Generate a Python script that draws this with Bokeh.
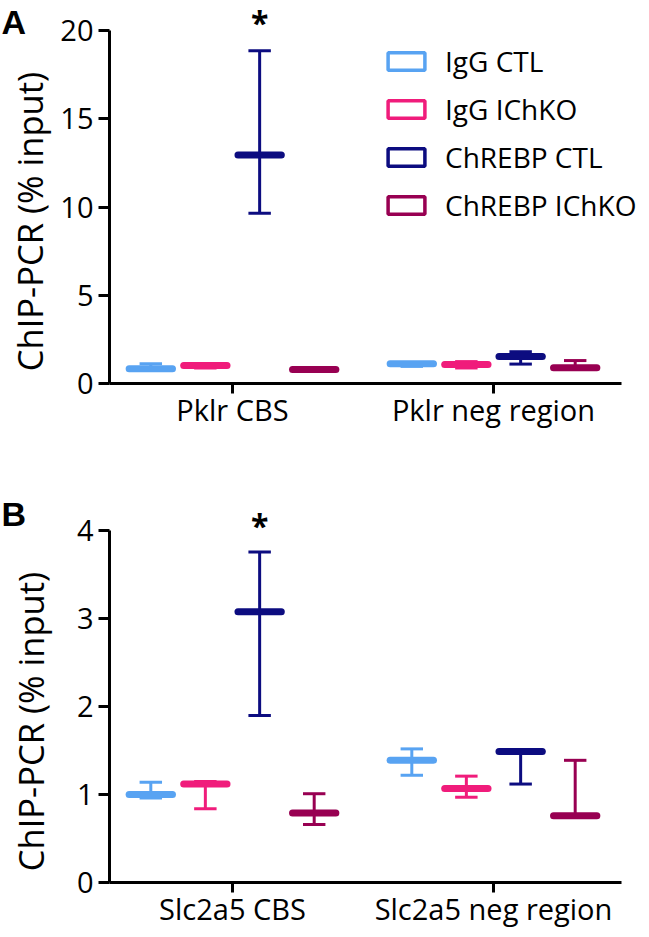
import math
from bokeh.plotting import figure
from bokeh.models import (Range1d, FixedTicker, Legend, LegendItem, Label,
                          ColumnDataSource, LinearAxis)
from bokeh.layouts import column
from bokeh.embed import file_html
from bokeh.resources import INLINE

# ---------------- data ----------------
groups = ["IgG CTL", "IgG IChKO", "ChREBP CTL", "ChREBP IChKO"]
colors = ["#58A3F2", "#F01C7B", "#0C0C80", "#980052"]

# Panel A
sites_a = ["Pklr CBS", "Pklr neg region"]
a_mean_igg_ctl = [0.83, 1.12]
a_up_igg_ctl = [1.12, 1.18]
a_lo_igg_ctl = [0.76, 0.97]
a_mean_igg_ko = [1.02, 1.08]
a_up_igg_ko = [1.08, 1.24]
a_lo_igg_ko = [0.88, 0.88]
a_mean_chr_ctl = [12.95, 1.53]
a_up_chr_ctl = [18.85, 1.80]
a_lo_chr_ctl = [9.65, 1.10]
a_mean_chr_ko = [0.80, 0.89]
a_up_chr_ko = [0.84, 1.30]
a_lo_chr_ko = [0.76, 0.84]
a_yticks = [0, 5, 10, 15, 20]
a_ymax = 20
a_star_site = 0
a_star_group = 2
a_star_y = 20.45

# Panel B
sites_b = ["Slc2a5 CBS", "Slc2a5 neg region"]
b_mean_igg_ctl = [1.00, 1.39]
b_up_igg_ctl = [1.14, 1.52]
b_lo_igg_ctl = [0.96, 1.22]
b_mean_igg_ko = [1.12, 1.07]
b_up_igg_ko = [1.15, 1.21]
b_lo_igg_ko = [0.84, 0.97]
b_mean_chr_ctl = [3.08, 1.49]
b_up_chr_ctl = [3.76, 1.51]
b_lo_chr_ctl = [1.90, 1.12]
b_mean_chr_ko = [0.79, 0.76]
b_up_chr_ko = [1.01, 1.39]
b_lo_chr_ko = [0.66, 0.74]
b_yticks = [0, 1, 2, 3, 4]
b_ymax = 4
b_star_site = 0
b_star_group = 2
b_star_y = 4.06

# ---------------- styling / layout ----------------
FONT = "Open Sans"
W = 641
PX_PER_X = 261.0          # px per category unit
X1_PX = 232.0             # px (from figure left) of first category
YAXIS_PX = 109.0          # px (from figure left) of y-axis line
XAXIS_END_PX = 621.0
offsets = [-0.313, -0.104, 0.104, 0.313]
mean_half = 0.083
cap_half = 0.043


def px_to_x(px):
    return 1 + (px - X1_PX) / PX_PER_X


def make_panel(sites, means, ups, los, yticks, ymax, height, y0_px, ppu,
               letter, letter_base_px, title_center_px, star, legend=False):
    # y0_px: px from figure top where y=0 ; ppu: px per y unit
    y_start = -(height - y0_px) / ppu
    y_end = y0_px / ppu
    p = figure(width=W, height=height, output_backend="svg", toolbar_location=None,
               x_range=Range1d(px_to_x(0), px_to_x(W)), y_range=Range1d(y_start, y_end),
               x_axis_type=None, y_axis_type=None,
               min_border=0, min_border_left=0, min_border_right=0,
               min_border_top=0, min_border_bottom=0, title=None)
    p.outline_line_color = None
    p.background_fill_color = None
    p.border_fill_color = None

    site_x = [i + 1 for i in range(len(sites))]
    x_axis_start = px_to_x(YAXIS_PX)

    yax = LinearAxis(ticker=FixedTicker(ticks=yticks), fixed_location=x_axis_start,
                     bounds=(0, ymax))
    xax = LinearAxis(ticker=FixedTicker(ticks=site_x), fixed_location=0,
                     bounds=(x_axis_start, px_to_x(XAXIS_END_PX)),
                     major_label_overrides={x: s for x, s in zip(site_x, sites)})
    for ax in (xax, yax):
        ax.axis_line_width = 3
        ax.axis_line_color = "black"
        ax.major_tick_line_width = 3
        ax.major_tick_line_color = "black"
        ax.minor_tick_line_color = None
        ax.major_label_text_font = FONT
        ax.major_label_text_font_size = "29px"
        ax.major_label_text_color = "black"
        ax.major_tick_in = 0
    yax.major_tick_out = 11
    yax.major_label_standoff = 5
    xax.major_tick_out = 10
    xax.major_label_standoff = -4
    p.add_layout(yax, "left")
    p.add_layout(xax, "below")

    # error bars and mean lines
    for g, (name, col) in enumerate(zip(groups, colors)):
        xs = [sx + offsets[g] for sx in site_x]
        src = ColumnDataSource(dict(
            x=xs, mean=means[g], up=ups[g], lo=los[g],
            mx0=[x - mean_half for x in xs], mx1=[x + mean_half for x in xs],
            cx0=[x - cap_half for x in xs], cx1=[x + cap_half for x in xs]))
        p.segment(x0="x", y0="lo", x1="x", y1="up", source=src, line_color=col, line_width=3)
        p.segment(x0="cx0", y0="up", x1="cx1", y1="up", source=src, line_color=col, line_width=3)
        p.segment(x0="cx0", y0="lo", x1="cx1", y1="lo", source=src, line_color=col, line_width=3)
        p.segment(x0="mx0", y0="mean", x1="mx1", y1="mean", source=src, line_color=col,
                  line_width=7, line_cap="round")

    # significance star
    s_site, s_group, s_y = star
    p.add_layout(Label(x=site_x[s_site] + offsets[s_group], y=s_y, text="*",
                       text_font=FONT, text_font_size="32px", text_font_style="bold",
                       text_align="center", text_baseline="alphabetic", text_color="black"))

    # y-axis title (rotated)
    tx, ty = title_center_px
    p.add_layout(Label(x=tx, y=height - ty, x_units="screen", y_units="screen",
                       text="ChIP-PCR (% input)", angle=math.pi / 2,
                       text_font=FONT, text_font_size="34.5px", text_align="center",
                       text_baseline="middle", text_color="black"))

    # panel letter
    p.add_layout(Label(x=1, y=height - letter_base_px, x_units="screen", y_units="screen",
                       text=letter, text_font="Liberation Sans", text_font_size="34px",
                       text_font_style="bold", text_baseline="alphabetic", text_color="black"))

    if legend:
        items = []
        for name, col in zip(groups, colors):
            r = p.rect(x=[float("nan")], y=[float("nan")], width=1, height=1,
                       fill_color=None, line_color=col, line_width=3.5)
            items.append(LegendItem(label=name, renderers=[r]))
        leg = Legend(items=items, location=(383, height - 224), orientation="vertical",
                     glyph_width=46, glyph_height=22, label_standoff=16,
                     label_text_font=FONT, label_text_font_size="28px",
                     label_text_color="black", spacing=10, padding=0, margin=0,
                     border_line_color=None, background_fill_alpha=0)
        p.add_layout(leg, "center")
    return p


# Panel A: figure rows 0..470 ; y=0 at 383 ; y=20 at 30
a_means = [a_mean_igg_ctl, a_mean_igg_ko, a_mean_chr_ctl, a_mean_chr_ko]
a_ups = [a_up_igg_ctl, a_up_igg_ko, a_up_chr_ctl, a_up_chr_ko]
a_los = [a_lo_igg_ctl, a_lo_igg_ko, a_lo_chr_ctl, a_lo_chr_ko]
pa = make_panel(sites_a, a_means, a_ups, a_los, a_yticks, a_ymax,
                height=470, y0_px=383, ppu=353 / 20,
                letter="A", letter_base_px=21, title_center_px=(29, 221),
                star=(a_star_site, a_star_group, a_star_y), legend=True)

# Panel B: figure rows 470..929 ; y=0 at 882 ; y=4 at 530.4
b_means = [b_mean_igg_ctl, b_mean_igg_ko, b_mean_chr_ctl, b_mean_chr_ko]
b_ups = [b_up_igg_ctl, b_up_igg_ko, b_up_chr_ctl, b_up_chr_ko]
b_los = [b_lo_igg_ctl, b_lo_igg_ko, b_lo_chr_ctl, b_lo_chr_ko]
pb = make_panel(sites_b, b_means, b_ups, b_los, b_yticks, b_ymax,
                height=459, y0_px=412, ppu=351.6 / 4,
                letter="B", letter_base_px=43, title_center_px=(30, 251),
                star=(b_star_site, b_star_group, b_star_y))

layout = column(pa, pb, spacing=0)
open("out.html", "w").write(file_html(layout, INLINE))
